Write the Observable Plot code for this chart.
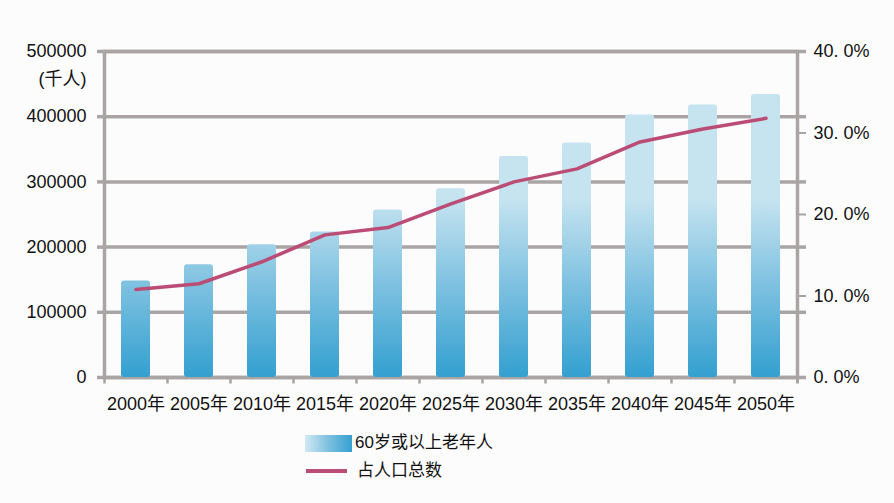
<!DOCTYPE html>
<html><head><meta charset="utf-8">
<script src="https://cdn.jsdelivr.net/npm/d3@7"></script>
<script src="https://cdn.jsdelivr.net/npm/@observablehq/plot@0.6"></script>
<style>
body{margin:0;background:#fcfcfc;}
#wrap{position:relative;width:894px;height:503px;font-family:"Liberation Sans","Noto Sans CJK SC",sans-serif;color:#111;}
.legtxt{position:absolute;font-size:17px;line-height:20px;white-space:nowrap;}
.sw{position:absolute;}
</style></head><body><div id="wrap"></div>
<script>
// ---- data ----
const years = [2000, 2005, 2010, 2015, 2020, 2025, 2030, 2035, 2040, 2045, 2050];
const elderly = [148000, 173000, 203500, 223000, 257000, 289500, 339000, 359500, 402500, 418000, 434000];
const share = [10.8, 11.5, 14.2, 17.5, 18.4, 21.3, 24.0, 25.6, 28.9, 30.5, 31.8];
const leftTicks = [0, 100000, 200000, 300000, 400000, 500000];
const pctTicks = [0, 10, 20, 30, 40];
const pctLabels = ["0. 0%", "10. 0%", "20. 0%", "30. 0%", "40. 0%"];
const seriesNames = ["60岁或以上老年人", "占人口总数"];
const unitLabel = "(千人)";
const yearSuffix = "年";

// ---- layout / style ----
const yMax = 500000, pctMax = 40, k = yMax / pctMax;
const W = 894, H = 420, mL = 104, mR = 97, mT = 51, mB = 43;
const step = (W - mL - mR) / years.length;
const grid = "#aaa5a5";
const lineColor = "#bb4c75";
const rows = years.map((year, i) => ({year, elderly: elderly[i], share: share[i]}));

const defs = (index, scales, values, dims) => {
  const g = d3.create("svg:defs");
  const lg = g.append("linearGradient").attr("id", "barGrad")
    .attr("gradientUnits", "userSpaceOnUse")
    .attr("x1", 0).attr("x2", 0)
    .attr("y1", dims.height - dims.marginBottom)
    .attr("y2", dims.marginTop + (dims.height - dims.marginTop - dims.marginBottom) * 0.45);
  lg.append("stop").attr("offset", 0).attr("stop-color", "#33a0d0");
  lg.append("stop").attr("offset", 0.5).attr("stop-color", "#7cc0e0");
  lg.append("stop").attr("offset", 1).attr("stop-color", "#c6e4f0");
  return g.node();
};

const chart = Plot.plot({
  width: W, height: H,
  marginLeft: mL, marginRight: mR, marginTop: mT, marginBottom: mB,
  style: {fontSize: "18px", fontFamily: '"Liberation Sans","Noto Sans CJK SC",sans-serif', background: "transparent", color: "#111", overflow: "visible"},
  x: {type: "band", domain: years, paddingInner: 0.545, paddingOuter: 0.2725},
  y: {domain: [0, yMax]},
  marks: [
    defs,
    Plot.ruleY(leftTicks, {stroke: grid, strokeWidth: 3.5}),
    Plot.frame({stroke: grid, strokeWidth: 3.5}),
    Plot.ruleX(years, {x: d => d, y1: 0, y2: -10000, dx: -step / 2, stroke: grid, strokeWidth: 2.5}),
    Plot.ruleX(years.slice(-1), {x: d => d, y1: 0, y2: -10000, dx: step / 2, stroke: grid, strokeWidth: 3}),
    Plot.barY(rows, {x: "year", y: "elderly", fill: "url(#barGrad)", rx: 3}),
    Plot.lineY(rows, {x: "year", y: d => d.share * k, stroke: lineColor, strokeWidth: 3.5}),
    Plot.axisY({ticks: leftTicks, anchor: "left", tickSize: 7, tickPadding: 11, stroke: grid, strokeWidth: 3.5, tickFormat: d => String(d), label: null}),
    Plot.axisY({ticks: leftTicks, anchor: "right", tickSize: 8, stroke: grid, strokeWidth: 3.5, tickFormat: () => "", label: null}),
    Plot.axisY({ticks: pctTicks.map(p => p * k), anchor: "right", tickSize: 8, tickPadding: 8, stroke: grid, strokeWidth: 2, tickFormat: d => pctLabels[pctTicks.indexOf(d / k)], label: null}),
    Plot.axisX({tickSize: 0, tickPadding: 20, tickFormat: d => d + yearSuffix, label: null}),
    Plot.text([unitLabel], {frameAnchor: "top-left", text: d => d, textAnchor: "end", dx: -18, dy: 21, fill: "#111"})
  ]
});
const wrap = document.getElementById("wrap");
wrap.appendChild(chart);

// legend
const sw1 = document.createElement("div");
sw1.className = "sw";
Object.assign(sw1.style, {left: "305px", top: "435px", width: "47px", height: "17px", background: "linear-gradient(to right,#d2e9f3,#7cc0e0 50%,#36a0d0)", filter: "blur(0.6px)"});
wrap.appendChild(sw1);
const t1 = document.createElement("div");
t1.className = "legtxt"; t1.textContent = seriesNames[0];
Object.assign(t1.style, {left: "355px", top: "433px"});
wrap.appendChild(t1);
const sw2 = document.createElement("div");
sw2.className = "sw";
Object.assign(sw2.style, {left: "306px", top: "469px", width: "41px", height: "4px", background: lineColor});
wrap.appendChild(sw2);
const t2 = document.createElement("div");
t2.className = "legtxt"; t2.textContent = seriesNames[1];
Object.assign(t2.style, {left: "357px", top: "461px"});
wrap.appendChild(t2);
</script></body></html>
